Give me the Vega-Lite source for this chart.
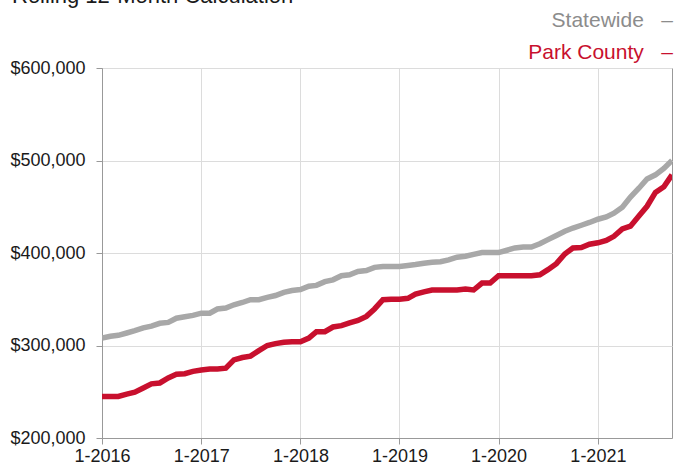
{
  "$schema": "https://vega.github.io/schema/vega-lite/v6.json",
  "width": 570,
  "height": 370,
  "autosize": {"type": "none"},
  "padding": {"left": 102, "top": 68, "right": 2, "bottom": 32},
  "background": "white",
  "title": {"text": "Rolling 12-Month Calculation", "anchor": "start", "frame": "group", "fontSize": 22, "fontWeight": "normal", "font": "Liberation Sans", "color": "#1a1a1a", "dx": -90, "dy": 18.5, "baseline": "alphabetic", "offset": 4},
  "data": {"values": [
    {"d": "2016-01", "Statewide": 308000, "Park County": 245000},
    {"d": "2016-02", "Statewide": 310000, "Park County": 245000},
    {"d": "2016-03", "Statewide": 311000, "Park County": 245000},
    {"d": "2016-04", "Statewide": 313500, "Park County": 247500},
    {"d": "2016-05", "Statewide": 316000, "Park County": 249500},
    {"d": "2016-06", "Statewide": 319000, "Park County": 254000},
    {"d": "2016-07", "Statewide": 321000, "Park County": 258500},
    {"d": "2016-08", "Statewide": 324000, "Park County": 259500},
    {"d": "2016-09", "Statewide": 325000, "Park County": 265000},
    {"d": "2016-10", "Statewide": 329500, "Park County": 269000},
    {"d": "2016-11", "Statewide": 331000, "Park County": 269500},
    {"d": "2016-12", "Statewide": 332500, "Park County": 272000},
    {"d": "2017-01", "Statewide": 335000, "Park County": 273500},
    {"d": "2017-02", "Statewide": 335000, "Park County": 274500},
    {"d": "2017-03", "Statewide": 339500, "Park County": 274500},
    {"d": "2017-04", "Statewide": 340500, "Park County": 275500},
    {"d": "2017-05", "Statewide": 344000, "Park County": 284500},
    {"d": "2017-06", "Statewide": 346500, "Park County": 287000},
    {"d": "2017-07", "Statewide": 349500, "Park County": 288500},
    {"d": "2017-08", "Statewide": 349500, "Park County": 294500},
    {"d": "2017-09", "Statewide": 352000, "Park County": 300000},
    {"d": "2017-10", "Statewide": 354000, "Park County": 302000},
    {"d": "2017-11", "Statewide": 357500, "Park County": 303500},
    {"d": "2017-12", "Statewide": 359500, "Park County": 304000},
    {"d": "2018-01", "Statewide": 360500, "Park County": 304000},
    {"d": "2018-02", "Statewide": 364000, "Park County": 308000},
    {"d": "2018-03", "Statewide": 365000, "Park County": 315000},
    {"d": "2018-04", "Statewide": 369000, "Park County": 315000},
    {"d": "2018-05", "Statewide": 371000, "Park County": 320000},
    {"d": "2018-06", "Statewide": 375500, "Park County": 321500},
    {"d": "2018-07", "Statewide": 376500, "Park County": 324500},
    {"d": "2018-08", "Statewide": 380000, "Park County": 327000},
    {"d": "2018-09", "Statewide": 381000, "Park County": 331500},
    {"d": "2018-10", "Statewide": 384500, "Park County": 339500},
    {"d": "2018-11", "Statewide": 385500, "Park County": 349500},
    {"d": "2018-12", "Statewide": 385500, "Park County": 350000},
    {"d": "2019-01", "Statewide": 385500, "Park County": 350000},
    {"d": "2019-02", "Statewide": 386500, "Park County": 351000},
    {"d": "2019-03", "Statewide": 387500, "Park County": 355500},
    {"d": "2019-04", "Statewide": 389000, "Park County": 358000},
    {"d": "2019-05", "Statewide": 390000, "Park County": 360000},
    {"d": "2019-06", "Statewide": 390500, "Park County": 360000},
    {"d": "2019-07", "Statewide": 392500, "Park County": 360000},
    {"d": "2019-08", "Statewide": 395500, "Park County": 360000},
    {"d": "2019-09", "Statewide": 396500, "Park County": 361000},
    {"d": "2019-10", "Statewide": 398500, "Park County": 360000},
    {"d": "2019-11", "Statewide": 400500, "Park County": 367500},
    {"d": "2019-12", "Statewide": 400500, "Park County": 367500},
    {"d": "2020-01", "Statewide": 400500, "Park County": 375500},
    {"d": "2020-02", "Statewide": 403000, "Park County": 375500},
    {"d": "2020-03", "Statewide": 405500, "Park County": 375500},
    {"d": "2020-04", "Statewide": 406500, "Park County": 375500},
    {"d": "2020-05", "Statewide": 406500, "Park County": 375500},
    {"d": "2020-06", "Statewide": 410000, "Park County": 376500},
    {"d": "2020-07", "Statewide": 414500, "Park County": 382000},
    {"d": "2020-08", "Statewide": 419000, "Park County": 388500},
    {"d": "2020-09", "Statewide": 423500, "Park County": 399000},
    {"d": "2020-10", "Statewide": 427000, "Park County": 405500},
    {"d": "2020-11", "Statewide": 430000, "Park County": 406000},
    {"d": "2020-12", "Statewide": 433000, "Park County": 409500},
    {"d": "2021-01", "Statewide": 436500, "Park County": 411000},
    {"d": "2021-02", "Statewide": 439000, "Park County": 413500},
    {"d": "2021-03", "Statewide": 443000, "Park County": 418000},
    {"d": "2021-04", "Statewide": 449500, "Park County": 426000},
    {"d": "2021-05", "Statewide": 460500, "Park County": 429000},
    {"d": "2021-06", "Statewide": 470000, "Park County": 440000},
    {"d": "2021-07", "Statewide": 480000, "Park County": 450500},
    {"d": "2021-08", "Statewide": 484500, "Park County": 465500},
    {"d": "2021-09", "Statewide": 491500, "Park County": 471500},
    {"d": "2021-10", "Statewide": 500000, "Park County": 484500}
  ]},
  "transform": [{"fold": ["Statewide", "Park County"], "as": ["series", "value"]}],
  "mark": {"type": "line", "strokeWidth": 5.5, "clip": true},
  "encoding": {
    "x": {
      "field": "d", "type": "temporal",
      "scale": {"type": "utc", "domain": [{"year": 2016, "month": 1, "date": 1, "utc": true}, {"year": 2021, "month": 10, "date": 1, "utc": true}]},
      "axis": {
        "title": null,
        "values": [
          {"year": 2016, "month": 1, "date": 1, "utc": true},
          {"year": 2017, "month": 1, "date": 1, "utc": true},
          {"year": 2018, "month": 1, "date": 1, "utc": true},
          {"year": 2019, "month": 1, "date": 1, "utc": true},
          {"year": 2020, "month": 1, "date": 1, "utc": true},
          {"year": 2021, "month": 1, "date": 1, "utc": true}
        ],
        "format": "%-m-%Y",
        "labelFontSize": 18, "labelColor": "#1a1a1a", "labelPadding": 3,
        "labelFlush": false, "labelOverlap": false,
        "tickSize": 6, "tickColor": "#999", "domainColor": "#999",
        "grid": true, "gridColor": "#dcdcdc"
      }
    },
    "y": {
      "field": "value", "type": "quantitative",
      "scale": {"domain": [200000, 600000], "nice": false, "zero": false},
      "axis": {
        "title": null,
        "values": [200000, 300000, 400000, 500000, 600000],
        "format": "$,.0f",
        "labelFontSize": 18, "labelColor": "#1a1a1a", "labelPadding": 11,
        "labelFlush": false, "labelOverlap": false,
        "tickSize": 6, "tickColor": "#999", "domainColor": "#999",
        "grid": true, "gridColor": "#dcdcdc"
      }
    },
    "color": {
      "field": "series", "type": "nominal",
      "scale": {"domain": ["Statewide", "Park County"], "range": ["#a8a8a8", "#c8102e"]},
      "legend": {
        "orient": "none", "legendX": 550, "legendY": -58,
        "title": null, "labelFontSize": 21, "labelAlign": "right", "labelBaseline": "middle",
        "labelOffset": 0, "labelLimit": 400, "symbolSize": 0, "symbolOpacity": 0, "symbolStrokeWidth": 0,
        "rowPadding": 10, "padding": 0,
        "labelExpr": "datum.label + '\u00a0\u00a0\u00a0–'",
        "encode": {"labels": {"update": {"fill": {"signal": "datum.value === 'Statewide' ? '#8c8c8c' : '#c8102e'"}}}}
      }
    }
  },
  "config": {"view": {"stroke": "#999"}, "font": "Liberation Sans"}
}
